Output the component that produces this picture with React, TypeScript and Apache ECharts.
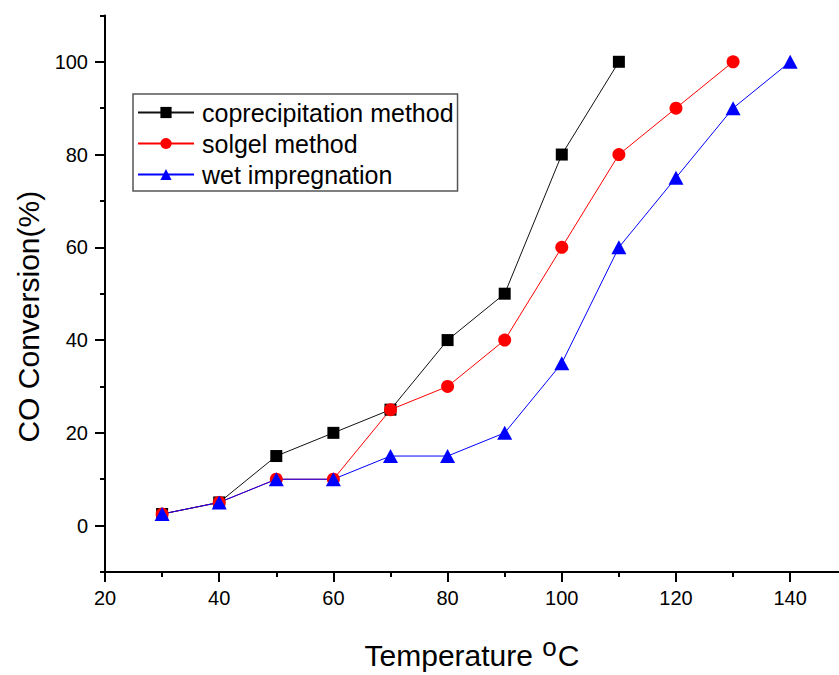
import React, { useEffect, useRef } from "react";
import * as echarts from "echarts";

const temperatures = [30, 40, 50, 60, 70, 80, 90, 100, 110, 120, 130, 140];
const coprecipitation = [2.5, 5, 15, 20, 25, 40, 50, 80, 100];
const solgel = [2.5, 5, 10, 10, 25, 30, 40, 60, 80, 90, 100];
const wetImpregnation = [2.5, 5, 10, 10, 15, 15, 20, 35, 60, 75, 90, 100];

const xMajorTicks = [20, 40, 60, 80, 100, 120, 140];
const xMinorTicks = [30, 50, 70, 90, 110, 130];
const yMajorTicks = [0, 20, 40, 60, 80, 100];
const yMinorTicks = [-10, 10, 30, 50, 70, 90, 110];

const FONT = "'Liberation Sans', Arial, Helvetica, sans-serif";
const X_MIN = 20;
const X_MAX = 148.55;
const Y_MIN = -10;
const Y_MAX = 110;

function pairs(vals: number[]) {
  return vals.map((v, i) => [temperatures[i], v]);
}

function tickAxis(kind: "x" | "y", values: number[], length: number) {
  return {
    type: "value",
    min: kind === "x" ? X_MIN : Y_MIN,
    max: kind === "x" ? X_MAX : Y_MAX,
    position: kind === "x" ? "bottom" : "left",
    offset: 0,
    axisLine: { show: false, onZero: false },
    splitLine: { show: false },
    axisTick: { show: true, length, lineStyle: { color: "#000", width: 2 }, customValues: values },
    axisLabel: { show: false },
  };
}

export default function App() {
  const ref = useRef<HTMLDivElement>(null);
  useEffect(() => {
    if (!ref.current) return;
    const chart = echarts.init(ref.current, null, { renderer: "svg" });
    const axisLine = { show: true, onZero: false, lineStyle: { color: "#000", width: 2 } };
    const option: any = {
      animation: false,
      backgroundColor: "#fff",
      grid: { left: 105, top: 15.4, width: 734, height: 563.2, containLabel: false },
      legend: {
        orient: "vertical",
        left: 133,
        top: 94,
        padding: [3, 4, 1, 4],
        itemGap: 0,
        itemWidth: 56,
        itemHeight: 14,
        borderColor: "#555",
        borderWidth: 1.5,
        textStyle: { fontSize: 25, fontFamily: FONT, color: "#000", lineHeight: 31, padding: [0, 0, 0, 3] },
        data: ["coprecipitation method", "solgel method", "wet impregnation"],
      },
      xAxis: [
        {
          type: "value",
          min: X_MIN,
          max: X_MAX,
          position: "bottom",
          axisLine,
          splitLine: { show: false },
          axisTick: { show: false },
          axisLabel: { show: true, color: "#000", fontSize: 20, fontFamily: FONT, margin: 16, customValues: xMajorTicks },
          name: "{a|Temperature }{s|o}{a|C}",
          nameLocation: "middle",
          nameGap: 62,
          nameTextStyle: {
            rich: {
              a: { fontSize: 30, fontFamily: FONT, color: "#000" },
              s: { fontSize: 26, fontFamily: FONT, color: "#000", padding: [0, 1, 16, 1] },
            },
          },
        },
        tickAxis("x", xMajorTicks, 10),
        tickAxis("x", xMinorTicks, 5),
      ],
      yAxis: [
        {
          type: "value",
          min: Y_MIN,
          max: Y_MAX,
          position: "left",
          axisLine,
          splitLine: { show: false },
          axisTick: { show: false },
          axisLabel: { show: true, color: "#000", fontSize: 20, fontFamily: FONT, margin: 17, customValues: yMajorTicks },
          name: "CO Conversion(%)",
          nameLocation: "middle",
          nameGap: 62,
          nameTextStyle: { fontSize: 30, fontFamily: FONT, color: "#000", padding: [0, 46, 0, 0] },
        },
        tickAxis("y", yMajorTicks, 10),
        tickAxis("y", yMinorTicks, 5),
      ],
      series: [
        {
          name: "coprecipitation method",
          type: "line",
          data: pairs(coprecipitation),
          symbol: "rect",
          symbolSize: 12,
          itemStyle: { color: "#000" },
          lineStyle: { color: "#111", width: 1 },
        },
        {
          name: "solgel method",
          type: "line",
          data: pairs(solgel),
          symbol: "circle",
          symbolSize: 13,
          itemStyle: { color: "#ff0000" },
          lineStyle: { color: "#ff0000", width: 1 },
        },
        {
          name: "wet impregnation",
          type: "line",
          data: pairs(wetImpregnation),
          symbol: "triangle",
          symbolSize: [15, 14],
          itemStyle: { color: "#0000ff" },
          lineStyle: { color: "#0000ff", width: 1 },
        },
      ],
    };
    chart.setOption(option);
    return () => chart.dispose();
  }, []);
  return <div ref={ref} style={{ position: "fixed", left: 0, top: 0, width: 839, height: 675 }} />;
}
